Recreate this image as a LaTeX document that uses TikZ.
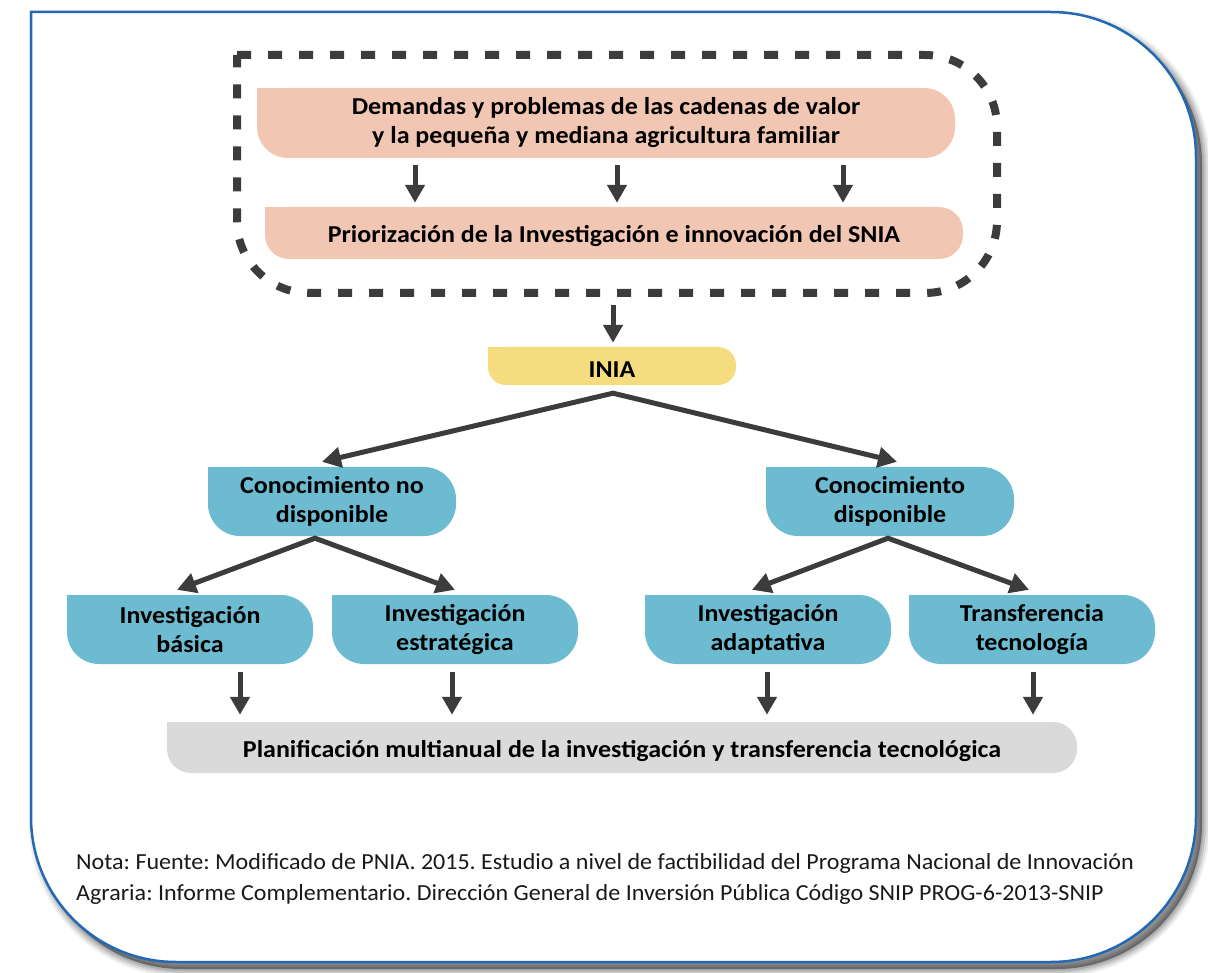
\documentclass[tikz,border=0pt]{standalone}
\usepackage{fontspec}
\setmainfont{Carlito}
\newfontfamily\boxfont{Carlito}[FakeStretch=1.07]
\newfontfamily\notefont{Carlito}[FakeStretch=1.045]
\usetikzlibrary{arrows.meta,backgrounds,calc}

\definecolor{peach}{HTML}{F1C6B2}
\definecolor{yel}{HTML}{F5DC7E}
\definecolor{boxteal}{HTML}{6CBBD0}
\definecolor{boxgray}{HTML}{DADADA}
\definecolor{ink}{HTML}{3C3C3C}
\definecolor{rim}{HTML}{2268B3}

\tikzset{
  box/.style={inner sep=0pt, align=center, text=black,
    font=\boxfont\fontsize{24.3}{29}\selectfont\bfseries,
    execute at begin node={\rule{0pt}{24pt}}},
  arr/.style={draw=ink, line width=5pt, line join=miter,
    -{Triangle[length=18pt,width=19pt]}},
  arrboth/.style={draw=ink, line width=5pt, line join=miter,
    {Triangle[length=19pt,width=20pt]}-{Triangle[length=19pt,width=20pt]}},
}

\begin{document}
\frenchspacing
\begin{tikzpicture}[x=1pt,y=-1pt]
\useasboundingbox (0,0) rectangle (1208,973);

% outer card with soft shadow
\begin{scope}[on background layer]
  \foreach \w/\o in {16/0.06,12/0.08,8/0.1,4/0.12}{
    \draw[black, opacity=\o, line width=\w pt, shift={(6,7)}]
      (31,12) -- (1051,12) arc[start angle=-90,end angle=0,radius=145]
      -- (1196,817) arc[start angle=0,end angle=90,radius=145]
      -- (176,962) arc[start angle=90,end angle=180,radius=145] -- cycle;
  }
  \fill[black, opacity=0.4, shift={(6,7)}]
      (31,12) -- (1051,12) arc[start angle=-90,end angle=0,radius=145]
      -- (1196,817) arc[start angle=0,end angle=90,radius=145]
      -- (176,962) arc[start angle=90,end angle=180,radius=145] -- cycle;
  \draw[rim, line width=2.5pt, fill=white]
      (31,12) -- (1051,12) arc[start angle=-90,end angle=0,radius=145]
      -- (1196,817) arc[start angle=0,end angle=90,radius=145]
      -- (176,962) arc[start angle=90,end angle=180,radius=145] -- cycle;
\end{scope}

% dashed group around the first two steps
\draw[ink, line width=8pt, dash pattern=on 14pt off 17pt]
  (237,55) -- (925,55) arc[start angle=-90,end angle=0,radius=72]
  -- (997,221) arc[start angle=0,end angle=90,radius=72]
  -- (309,293) arc[start angle=90,end angle=180,radius=72] -- cycle;
\coordinate (grpS) at (613,293);

% boxes
\node[box, fill=peach, rounded corners=31pt, minimum width=698pt, minimum height=70pt]
  (dem) at (606,123) {Demandas y problemas de las cadenas de valor\\y la pequeña y mediana agricultura familiar};
\node[box, fill=peach, rounded corners=24pt, minimum width=698pt, minimum height=52pt]
  (pri) at (614,233) {Priorización de la Investigación e innovación del SNIA};
\node[box, fill=yel, rounded corners=18pt, minimum width=248pt, minimum height=38pt]
  (inia) at (612,366) {INIA};
\node[box, fill=boxteal, rounded corners=32pt, minimum width=248pt, minimum height=69pt]
  (cnd) at (332,501.5) {Conocimiento no\\disponible};
\node[box, fill=boxteal, rounded corners=32pt, minimum width=248pt, minimum height=69pt]
  (cd) at (890,501.5) {Conocimiento\\disponible};
\node[box, fill=boxteal, rounded corners=32pt, minimum width=246pt, minimum height=69pt]
  (ib) at (190,629.5) {Investigación\\básica};
\node[box, fill=boxteal, rounded corners=32pt, minimum width=246pt, minimum height=69pt]
  (ie) at (455,629.5) {Investigación\\estratégica};
\node[box, fill=boxteal, rounded corners=32pt, minimum width=246pt, minimum height=69pt]
  (ia) at (768,629.5) {Investigación\\adaptativa};
\node[box, fill=boxteal, rounded corners=32pt, minimum width=246pt, minimum height=69pt]
  (tt) at (1032,629.5) {Transferencia\\tecnología};
\node[box, fill=boxgray, rounded corners=24pt, minimum width=910pt, minimum height=51pt]
  (plan) at (622,747.5) {Planificación multianual de la investigación y transferencia tecnológica};

% square top-left corners
\begin{scope}[on background layer]
  \foreach \n/\c/\r in {dem/peach/31, pri/peach/24, inia/yel/18,
      cnd/boxteal/32, cd/boxteal/32, ib/boxteal/32, ie/boxteal/32,
      ia/boxteal/32, tt/boxteal/32, plan/boxgray/24}{
    \fill[\c] (\n.north west) rectangle ++(\r,\r);
  }
\end{scope}

% demands -> prioritisation
\foreach \dx in {-191,11,237}{
  \draw[arr, shorten <=7pt, shorten >=4pt]
    ([xshift=\dx pt]dem.south) -- ([xshift=\dx pt]dem.south |- pri.north);
}

% group -> INIA
\draw[arr, shorten <=12pt, shorten >=4pt] (grpS) -- (grpS |- inia.north);

% INIA branches
\coordinate (iniaApex) at ([xshift=1pt,yshift=-8pt]inia.south);
\draw[arrboth] ([xshift=-10pt,yshift=5pt]cnd.north) -- (iniaApex) -- ([xshift=7pt,yshift=5pt]cd.north);

% knowledge branches
\coordinate (cndApex) at ([xshift=-17pt,yshift=-2pt]cnd.south);
\draw[arrboth] ([xshift=-13pt,yshift=5pt]ib.north) -- (cndApex) -- ([yshift=5pt]ie.north);
\coordinate (cdApex) at ([xshift=-2pt,yshift=-2pt]cd.south);
\draw[arrboth] ([xshift=-16pt,yshift=5pt]ia.north) -- (cdApex) -- ([xshift=-3pt,yshift=5pt]tt.north);

% into the planning box
\foreach \n/\dx in {ib/50, ie/-3, ia/-1, tt/1}{
  \draw[arr, shorten <=8pt, shorten >=7pt]
    ([xshift=\dx pt]\n.south) -- ([xshift=\dx pt]\n.south |- plan.north);
}

% source note
\node[anchor=north west, align=left, inner sep=0pt, text=black!90,
      font=\notefont\fontsize{23}{31}\selectfont]
  (note) at (76,853) {Nota: Fuente: Modificado de PNIA. 2015. Estudio a nivel de factibilidad del Programa Nacional de Innovación\\
  Agraria: Informe Complementario. Dirección General de Inversión Pública Código SNIP PROG-6-2013-SNIP};
\end{tikzpicture}
\end{document}
